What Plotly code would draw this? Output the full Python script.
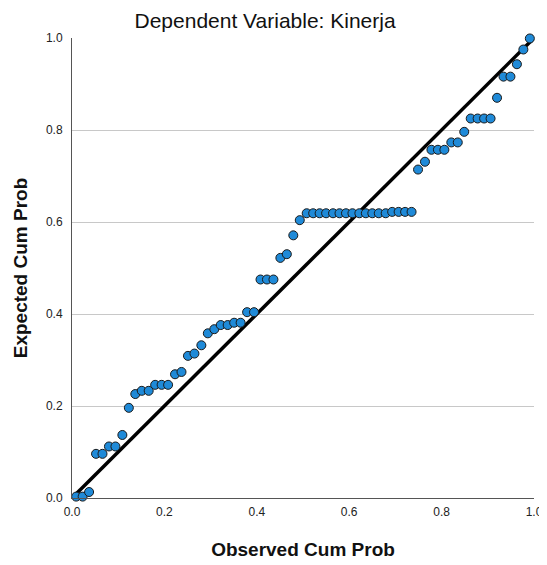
import plotly.graph_objects as go

observed_cum_prob = [
    0.009, 0.023, 0.037, 0.052, 0.066, 0.080, 0.094, 0.109, 0.123, 0.137,
    0.151, 0.166, 0.180, 0.194, 0.208, 0.223, 0.237, 0.251, 0.265, 0.280,
    0.294, 0.308, 0.322, 0.337, 0.351, 0.365, 0.379, 0.394, 0.408, 0.422,
    0.436, 0.451, 0.465, 0.479, 0.493, 0.508, 0.522, 0.536, 0.550, 0.565,
    0.579, 0.593, 0.607, 0.622, 0.636, 0.650, 0.664, 0.679, 0.693, 0.707,
    0.721, 0.735, 0.749, 0.764, 0.778, 0.792, 0.806, 0.821, 0.835, 0.849,
    0.863, 0.878, 0.892, 0.906, 0.920, 0.934, 0.949, 0.963, 0.977, 0.991,
]
expected_cum_prob = [
    0.003, 0.003, 0.013, 0.096, 0.096, 0.112, 0.112, 0.137, 0.196, 0.226,
    0.233, 0.233, 0.246, 0.246, 0.246, 0.269, 0.274, 0.309, 0.314, 0.332,
    0.358, 0.367, 0.376, 0.376, 0.381, 0.381, 0.404, 0.404, 0.475, 0.475,
    0.475, 0.522, 0.530, 0.571, 0.604, 0.619, 0.619, 0.619, 0.619, 0.619,
    0.619, 0.619, 0.619, 0.619, 0.619, 0.619, 0.619, 0.619, 0.622, 0.622,
    0.622, 0.622, 0.714, 0.731, 0.757, 0.757, 0.757, 0.773, 0.773, 0.796,
    0.825, 0.825, 0.825, 0.825, 0.870, 0.916, 0.916, 0.943, 0.975, 0.999,
]
ref_line = [0.0, 1.0]
tick_vals = [0.0, 0.2, 0.4, 0.6, 0.8, 1.0]
tick_text = ["0.0", "0.2", "0.4", "0.6", "0.8", "1.0"]

fig = go.Figure()
fig.add_trace(go.Scatter(
    x=ref_line, y=ref_line, mode="lines",
    line=dict(color="black", width=3.5),
    cliponaxis=False, showlegend=False, hoverinfo="skip",
))
fig.add_trace(go.Scatter(
    x=observed_cum_prob, y=expected_cum_prob, mode="markers",
    marker=dict(size=9, color="#1f8ad8", line=dict(color="#1a1a1a", width=1)),
    cliponaxis=False, showlegend=False,
))

fig.update_layout(
    width=547, height=565,
    margin=dict(l=64, r=19, t=30, b=75),
    paper_bgcolor="white", plot_bgcolor="white",
    font=dict(family="Liberation Sans, Arial, sans-serif", color="#222"),
    title=dict(text="Dependent Variable: Kinerja", x=0.47, xanchor="center",
               xref="container", yref="container",
               y=0.978, yanchor="middle", font=dict(size=21, color="#111")),
    xaxis=dict(
        range=[0, 1], tickvals=tick_vals, ticktext=tick_text,
        showgrid=False, zeroline=False, showline=True, linecolor="#555",
        linewidth=1, ticks="", tickfont=dict(size=12, color="#222"),
        ticklabelstandoff=3,
        title=dict(text="<b>Observed Cum Prob</b>", font=dict(size=19, color="#111"),
                   standoff=24),
    ),
    yaxis=dict(
        range=[0, 1], tickvals=tick_vals, ticktext=tick_text,
        showgrid=True, gridcolor="#c8c8c8", gridwidth=1, zeroline=False,
        showline=True, linecolor="#555", linewidth=1, ticks="",
        tickfont=dict(size=12, color="#222"),
        ticklabelstandoff=6,
        title=dict(text="<b>Expected Cum Prob</b>", font=dict(size=19, color="#111"),
                   standoff=13),
    ),
)

fig.write_html("out.html")
